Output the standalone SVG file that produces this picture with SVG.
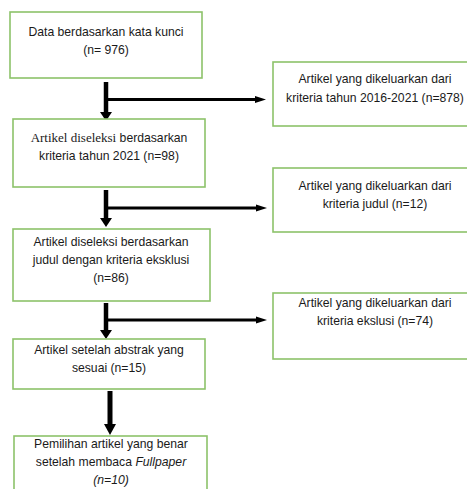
<svg xmlns="http://www.w3.org/2000/svg" width="467" height="489" viewBox="0 0 467 489">
<style>
.box{fill:#fff;stroke:#8dc26a;stroke-width:1.6}
text{font-family:"Liberation Sans",Arial,sans-serif;font-size:12.2px;fill:#1a1a1a;text-anchor:middle}
.ser{font-family:"Liberation Serif","Times New Roman",serif;font-size:13px}
.it{font-style:italic}
.sh{stroke:#000;fill:none}
.hd{fill:#000}
</style>
<rect width="467" height="489" fill="#fff"/>
<g id="connectors">
  <line class="sh" x1="106" y1="82" x2="106" y2="113" stroke-width="4.5"/>
  <polygon class="hd" points="100,112 112,112 106,121"/>
  <line class="sh" x1="106" y1="99.5" x2="257" y2="99.5" stroke-width="3"/>
  <polygon class="hd" points="255,96 266,99.5 255,103"/>

  <line class="sh" x1="106" y1="190" x2="106" y2="219" stroke-width="4.5"/>
  <polygon class="hd" points="100,218 112,218 106,227"/>
  <line class="sh" x1="106" y1="208" x2="258" y2="208" stroke-width="3"/>
  <polygon class="hd" points="256,204.5 267,208 256,211.5"/>

  <line class="sh" x1="106" y1="303" x2="106" y2="331" stroke-width="4.5"/>
  <polygon class="hd" points="100,330 112,330 106,339"/>
  <line class="sh" x1="106" y1="320" x2="258" y2="320" stroke-width="3"/>
  <polygon class="hd" points="256,316.5 267,320 256,323.5"/>

  <line class="sh" x1="110" y1="391" x2="110" y2="425" stroke-width="5"/>
  <polygon class="hd" points="104,424 116,424 110,435"/>
</g>
<g id="n1">
  <rect class="box" x="10" y="12" width="192" height="66"/>
  <text x="106" y="36">Data berdasarkan kata kunci</text>
  <text x="106" y="54">(n= 976)</text>
</g>
<g id="n2">
  <rect class="box" x="273" y="62" width="204" height="64"/>
  <text x="375" y="83">Artikel yang dikeluarkan dari</text>
  <text x="375" y="102">kriteria tahun 2016-2021 (n=878)</text>
</g>
<g id="n3">
  <rect class="box" x="13" y="119" width="192" height="68"/>
  <text x="109" y="142"><tspan class="ser">Artikel diseleksi</tspan> berdasarkan</text>
  <text x="109" y="160">kriteria tahun 2021 (n=98)</text>
</g>
<g id="n4">
  <rect class="box" x="273" y="168" width="204" height="64"/>
  <text x="375" y="190">Artikel yang dikeluarkan dari</text>
  <text x="375" y="208">kriteria judul (n=12)</text>
</g>
<g id="n5">
  <rect class="box" x="13" y="229" width="197" height="72"/>
  <text x="111" y="246">Artikel diseleksi berdasarkan</text>
  <text x="111" y="264">judul dengan kriteria eksklusi</text>
  <text x="111" y="282">(n=86)</text>
</g>
<g id="n6">
  <rect class="box" x="273" y="293" width="204" height="66"/>
  <text x="375" y="307">Artikel yang dikeluarkan dari</text>
  <text x="375" y="325">kriteria ekslusi (n=74)</text>
</g>
<g id="n7">
  <rect class="box" x="13" y="339" width="192" height="50"/>
  <text x="109" y="354">Artikel setelah abstrak yang</text>
  <text x="109" y="372">sesuai (n=15)</text>
</g>
<g id="n8">
  <rect class="box" x="14" y="436" width="193" height="60"/>
  <text x="111" y="448">Pemilihan artikel yang benar</text>
  <text x="111" y="466">setelah membaca <tspan class="it">Fullpaper</tspan></text>
  <text x="111" y="484" class="it">(n=10)</text>
</g>
</svg>
